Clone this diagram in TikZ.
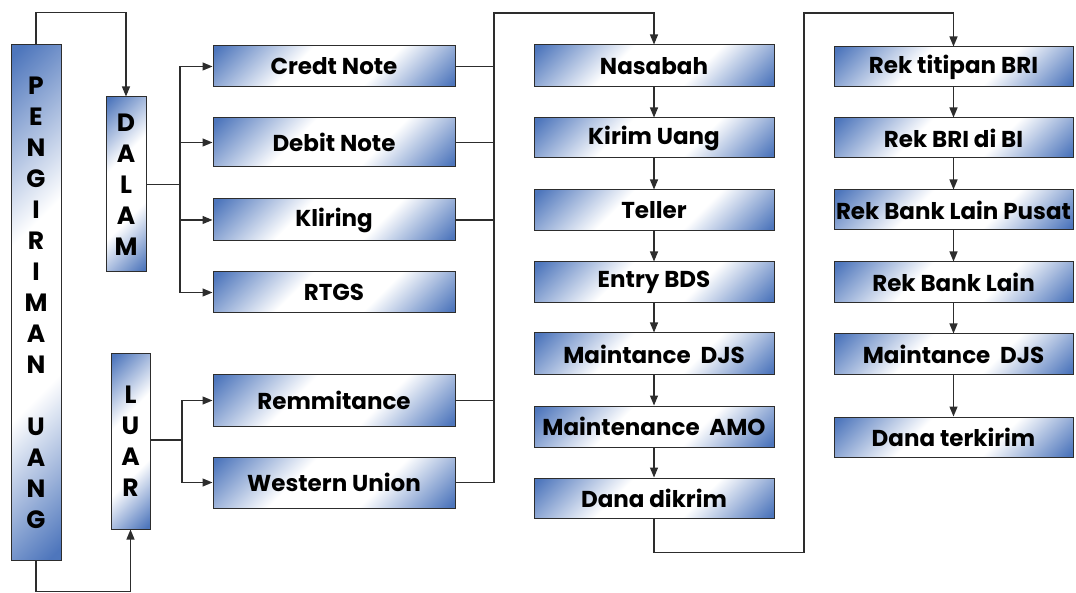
\documentclass[tikz,border=0pt]{standalone}
\usepackage{fontspec}
\setmainfont{Poppins}
\usetikzlibrary{arrows.meta}
\definecolor{myblue}{RGB}{78,118,188}
\definecolor{lc}{RGB}{45,45,45}
\pgfdeclarehorizontalshading{bwb}{100bp}{color(0bp)=(myblue); color(16bp)=(myblue); color(40bp)=(white); color(62bp)=(white); color(84bp)=(myblue); color(100bp)=(myblue)}
\begin{document}
\begin{tikzpicture}[x=1pt,y=-1pt,
  box/.style={draw=lc, line width=1pt, shading=bwb, shading angle=-45, inner sep=0pt,
    font=\bfseries\fontsize{23}{26}\selectfont},
  wbox/.style={box, minimum width=242pt, minimum height=#1},
  tall/.style={box, align=center, font=\bfseries\fontsize{25}{31}\selectfont},
  conn/.style={draw=lc, line width=1.2pt},
  arr/.style={conn, -{Triangle[length=10pt,width=8pt]}}]
\useasboundingbox (0,0) rectangle (1076,593);

% tall boxes
\node[tall, minimum width=50pt, minimum height=515pt] (peng) at (36,302.5)
  {P\\E\\N\\G\\I\\R\\I\\M\\A\\N\\[31pt]U\\A\\N\\G};
\node[tall, minimum width=40pt, minimum height=175pt] (dalam) at (126,184.5)
  {D\\A\\L\\A\\M};
\node[tall, minimum width=39pt, minimum height=175pt] (luar) at (130.5,441.5)
  {L\\U\\A\\R};

% left column
\node[wbox=41pt] (credt) at (334,66.5) {Credt Note};
\node[wbox=49pt] (debit) at (334,142.5) {Debit Note};
\node[wbox=42pt] (klir) at (334,220) {Kliring};
\node[wbox=41pt] (rtgs) at (334,292.5) {RTGS};
\node[wbox=51pt] (remm) at (334,400.5) {Remmitance};
\node[wbox=51pt] (wu) at (334,482.5) {Western Union};

% middle column
\node[wbox=42pt, minimum width=240pt] (nas) at (654,66) {Nasabah};
\node[wbox=40pt, minimum width=240pt] (kirim) at (654,138) {Kirim Uang};
\node[wbox=41pt, minimum width=240pt] (teller) at (654,210.5) {Teller};
\node[wbox=41pt, minimum width=240pt] (entry) at (654,282.5) {Entry BDS};
\node[wbox=42pt, minimum width=240pt] (mdjs) at (654,354) {Maintance~~DJS};
\node[wbox=41pt, minimum width=240pt] (amo) at (654,426.5) {Maintenance~~AMO};
\node[wbox=40pt, minimum width=240pt] (dana) at (654,498) {Dana dikrim};

% right column
\node[wbox=40pt, minimum width=239pt] (r1) at (953.5,67) {Rek titipan BRI};
\node[wbox=40pt, minimum width=239pt] (r2) at (953.5,138) {Rek BRI di BI};
\node[wbox=40pt, minimum width=239pt] (r3) at (953.5,210) {Rek Bank Lain Pusat};
\node[wbox=41pt, minimum width=239pt] (r4) at (953.5,282.5) {Rek Bank Lain};
\node[wbox=41pt, minimum width=239pt] (r5) at (953.5,354.5) {Maintance~~DJS};
\node[wbox=40pt, minimum width=239pt] (r6) at (953.5,437) {Dana terkirim};

% connectors from PENGIRIMAN UANG
\draw[arr] (peng.north) -- ++(0,-32) -| (dalam.north);
\draw[arr] (peng.south) -- ++(0,31) -| (luar.south);

% DALAM branches
\coordinate (dj) at (180,184.5);
\draw[conn] (dalam.east) -- (dj);
\draw[arr] (dj) |- (credt.west);
\draw[arr] (dj) |- (debit.west);
\draw[arr] (dj) |- (klir.west);
\draw[arr] (dj) |- (rtgs.west);

% LUAR branches
\coordinate (lj) at (182,440);
\draw[conn] (luar.east |- lj) -- (lj);
\draw[arr] (lj) |- (remm.west);
\draw[arr] (lj) |- (wu.west);

% trunk to Nasabah
\coordinate (rt) at (494,13);
\draw[conn] (credt.east) -- (credt.east -| rt);
\draw[conn] (debit.east) -- (debit.east -| rt);
\draw[conn] (klir.east) -- (klir.east -| rt);
\draw[conn] (remm.east) -- (remm.east -| rt);
\draw[arr] (wu.east) -| (rt) -| (nas.north);

% middle chain
\draw[arr] (nas) -- (kirim);
\draw[arr] (kirim) -- (teller);
\draw[arr] (teller) -- (entry);
\draw[arr] (entry) -- (mdjs);
\draw[arr] (mdjs) -- (amo);
\draw[arr] (amo) -- (dana);

% to right column
\coordinate (c2) at (804,13);
\draw[arr] (dana.south) -- ++(0,34) -| (c2) -| (r1.north);

% right chain
\draw[arr] (r1) -- (r2);
\draw[arr] (r2) -- (r3);
\draw[arr] (r3) -- (r4);
\draw[arr] (r4) -- (r5);
\draw[arr] (r5) -- (r6);
\end{tikzpicture}
\end{document}
